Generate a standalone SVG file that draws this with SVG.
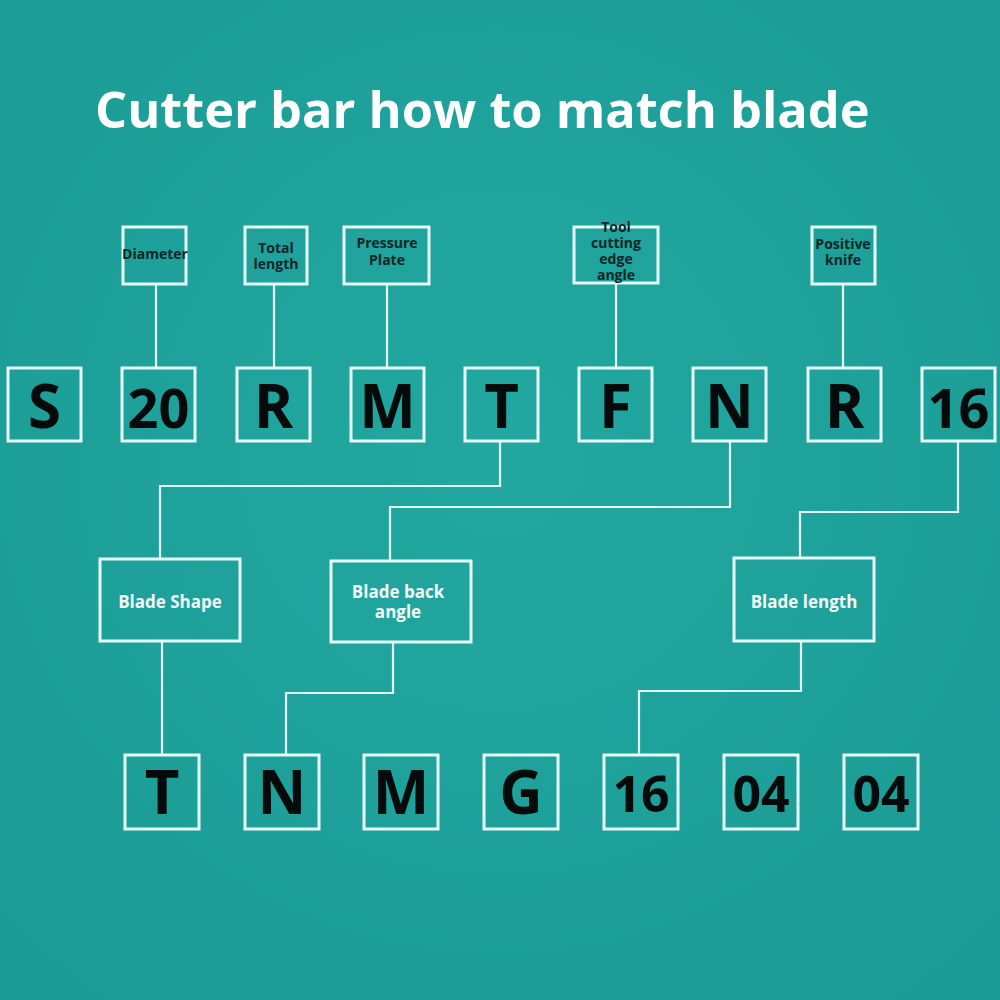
<svg xmlns="http://www.w3.org/2000/svg" width="1000" height="1000" viewBox="0 0 1000 1000">
<defs>
<radialGradient id="bg" cx="0.5" cy="0.45" r="0.75">
<stop offset="0" stop-color="#22a8a0"/>
<stop offset="1" stop-color="#1a9a94"/>
</radialGradient>
<style>
.box{fill:none;stroke:#e6fbf9;stroke-width:3}
.ln{fill:none;stroke:#e6fbf9;stroke-width:2.2}
.big{font-family:"Open Sans","Noto Sans",sans-serif;font-weight:700;font-size:60px;fill:#050a0a;text-anchor:middle}
.num{font-size:54px}
.numb{font-size:50px}
.lab{font-family:"Open Sans","Noto Sans",sans-serif;font-weight:700;font-size:14px;fill:#0b2626;text-anchor:middle}
.mid{font-family:"Open Sans","Noto Sans",sans-serif;font-weight:700;font-size:17px;fill:#f2fbfa;text-anchor:middle}
.title{font-family:"Open Sans","Noto Sans",sans-serif;font-weight:700;font-size:50.5px;fill:#ffffff}
</style>
</defs>
<rect width="1000" height="1000" fill="url(#bg)"/>
<text class="title" x="95" y="128">Cutter bar how to match blade</text>

<g id="connectors">
<line class="ln" x1="156" y1="284" x2="156" y2="368"/>
<line class="ln" x1="274" y1="284" x2="274" y2="368"/>
<line class="ln" x1="387" y1="284" x2="387" y2="368"/>
<line class="ln" x1="616" y1="283" x2="616" y2="368"/>
<line class="ln" x1="843" y1="284" x2="843" y2="368"/>
<polyline class="ln" points="500,441 500,486 160,486 160,559"/>
<polyline class="ln" points="730,441 730,507 390,507 390,561"/>
<polyline class="ln" points="958,441 958,512 800,512 800,558"/>
<line class="ln" x1="162" y1="641" x2="162" y2="755"/>
<polyline class="ln" points="393,642 393,693 286,693 286,755"/>
<polyline class="ln" points="801,641 801,691 639,691 639,755"/>
</g>

<g id="lab-diameter"><rect class="box" x="123" y="227" width="63" height="57"/><text class="lab" x="155" y="259">Diameter</text></g>
<g id="lab-total"><rect class="box" x="245" y="227" width="62" height="57"/><text class="lab" x="276" y="253">Total</text><text class="lab" x="276" y="269">length</text></g>
<g id="lab-pressure"><rect class="box" x="344" y="227" width="85" height="57"/><text class="lab" x="387" y="248">Pressure</text><text class="lab" x="387" y="265">Plate</text></g>
<g id="lab-tool"><rect class="box" x="574" y="227" width="84" height="56"/><text class="lab" x="616" y="232">Tool</text><text class="lab" x="616" y="248">cutting</text><text class="lab" x="616" y="264">edge</text><text class="lab" x="616" y="280">angle</text></g>
<g id="lab-positive"><rect class="box" x="812" y="227" width="63" height="57"/><text class="lab" x="843" y="249">Positive</text><text class="lab" x="843" y="265">knife</text></g>

<g id="top-S"><rect class="box" x="8" y="368" width="73" height="73"/><text class="big" x="44.5" y="428">S</text></g>
<g id="top-20"><rect class="box" x="122" y="368" width="73" height="73"/><text class="big num" x="158.5" y="428">20</text></g>
<g id="top-R1"><rect class="box" x="237" y="368" width="73" height="73"/><text class="big" x="273.5" y="428">R</text></g>
<g id="top-M"><rect class="box" x="351" y="368" width="73" height="73"/><text class="big" x="387.5" y="428">M</text></g>
<g id="top-T"><rect class="box" x="465" y="368" width="73" height="73"/><text class="big" x="501.5" y="428">T</text></g>
<g id="top-F"><rect class="box" x="579" y="368" width="73" height="73"/><text class="big" x="615.5" y="428">F</text></g>
<g id="top-N"><rect class="box" x="693" y="368" width="73" height="73"/><text class="big" x="729.5" y="428">N</text></g>
<g id="top-R2"><rect class="box" x="808" y="368" width="73" height="73"/><text class="big" x="844.5" y="428">R</text></g>
<g id="top-16"><rect class="box" x="922" y="368" width="73" height="73"/><text class="big num" x="958.5" y="428">16</text></g>

<g id="mid-shape"><rect class="box" x="100" y="559" width="140" height="82"/><text class="mid" x="170" y="608">Blade Shape</text></g>
<g id="mid-back"><rect class="box" x="331" y="561" width="140" height="81"/><text class="mid" x="398" y="598">Blade back</text><text class="mid" x="398" y="618">angle</text></g>
<g id="mid-length"><rect class="box" x="734" y="558" width="140" height="83"/><text class="mid" x="804" y="608">Blade length</text></g>

<g id="bot-T"><rect class="box" x="125" y="755" width="74" height="74"/><text class="big" x="162" y="814">T</text></g>
<g id="bot-N"><rect class="box" x="245" y="755" width="74" height="74"/><text class="big" x="282" y="814">N</text></g>
<g id="bot-M"><rect class="box" x="364" y="755" width="74" height="74"/><text class="big" x="401" y="814">M</text></g>
<g id="bot-G"><rect class="box" x="484" y="755" width="74" height="74"/><text class="big" x="521" y="814">G</text></g>
<g id="bot-16"><rect class="box" x="604" y="755" width="74" height="74"/><text class="big numb" x="641" y="812">16</text></g>
<g id="bot-04a"><rect class="box" x="724" y="755" width="74" height="74"/><text class="big numb" x="761" y="812">04</text></g>
<g id="bot-04b"><rect class="box" x="844" y="755" width="74" height="74"/><text class="big numb" x="881" y="812">04</text></g>
</svg>
